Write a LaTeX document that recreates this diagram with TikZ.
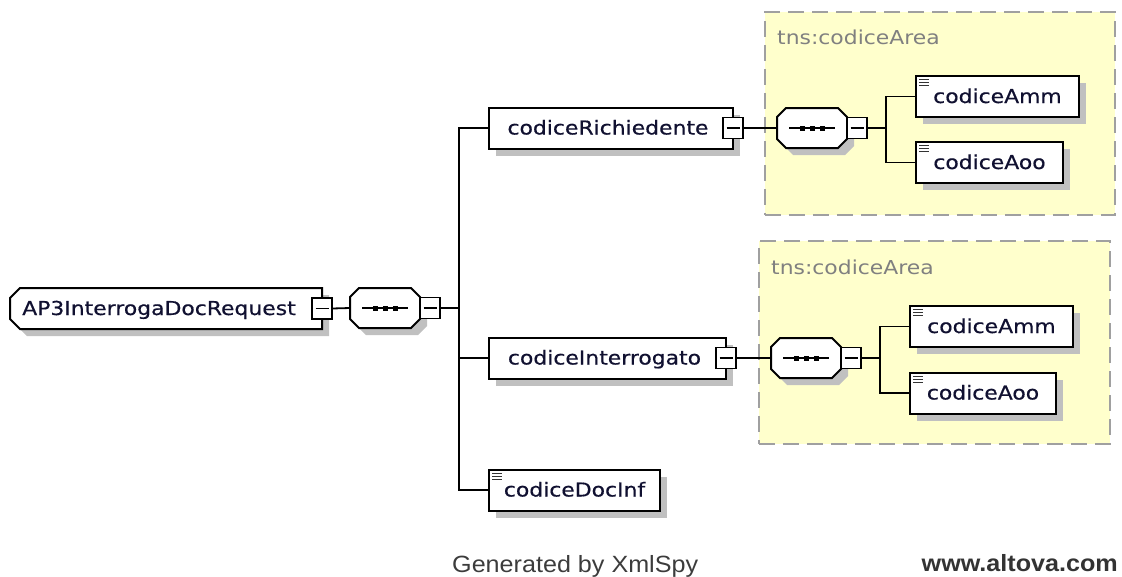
\documentclass[tikz,border=0pt]{standalone}
\usepackage{fontspec}
\usetikzlibrary{shadows}
\newfontfamily\elemfont[FakeStretch=1.14,FakeBold=0.5]{DejaVu Sans}
\newfontfamily\labelfont[FakeStretch=1.14]{DejaVu Sans}
\newfontfamily\footfont[FakeStretch=1.07]{Liberation Sans}
\definecolor{groupfill}{RGB}{255,255,204}
\definecolor{groupline}{RGB}{160,160,160}
\definecolor{shadowgray}{RGB}{192,192,192}
\definecolor{labelgray}{RGB}{128,128,128}
\definecolor{footgray}{RGB}{60,60,60}
\definecolor{inkblue}{RGB}{16,16,48}
\tikzset{
  lw/.style={line width=2pt},
  conn/.style={line width=1.8pt, draw=black},
  hole/.style={inner sep=0pt, outer sep=0pt},
  nametext/.style={font=\elemfont\fontsize{19.2}{22}\selectfont, text=inkblue,
    text height=13pt, text depth=0pt},
  elem/.style={draw, lw, fill=white, anchor=west, minimum height=41pt,
    inner sep=0pt, outer sep=0pt, nametext,
    general shadow={fill=shadowgray, shadow xshift=7pt, shadow yshift=-7pt}},
  simple/.style={elem, path picture={
      \foreach \d in {3.5,6.5,9.5}
        \draw[line width=0.9pt, black!80] ([shift={(3pt,-\d pt)}]path picture bounding box.north west) -- ++(10pt,0pt);}},
  minusbox/.style={draw, line width=1.6pt, fill=white, minimum width=20pt,
    minimum height=21pt, inner sep=0pt, outer sep=0pt,
    path picture={\draw[line width=1.4pt] ([xshift=3.5pt]path picture bounding box.west) -- ([xshift=-3.5pt]path picture bounding box.east);}},
  group/.style={draw=groupline, fill=groupfill, line width=1.8pt,
    dash pattern=on 16pt off 8pt, anchor=north west, inner sep=0pt},
  grouplabel/.style={anchor=base west, inner sep=0pt, text=labelgray,
    font=\labelfont\fontsize{19.2}{22}\selectfont},
  % sequence compositor: octagon with its shadow, dot symbol and collapse box
  seqcomp/.pic={
    \fill[shadowgray] (16,-13) -- (68,-13) -- (77,-4) -- (77,18) -- (68,27) -- (16,27) -- (7,18) -- (7,-4) -- cycle;
    \draw[lw, fill=white] (9,-20) -- (61,-20) -- (70,-11) -- (70,11) -- (61,20) -- (9,20) -- (0,11) -- (0,-11) -- cycle;
    \node[hole, minimum width=70pt, minimum height=40pt, anchor=west] (-c) at (0,0) {};
    \draw[line width=1.8pt] (12,0) -- (58,0);
    \foreach \q in {25,35,45} \fill (\q-2.5,-2.5) rectangle (\q+2.5,2.5);
    \node[minusbox, anchor=west] (-m) at (70,0) {};
  }
}
\begin{document}
\begin{tikzpicture}[x=1pt, y=-1pt]
\useasboundingbox (0,0) rectangle (1122,576);

% attribute-group frames
\node[group, minimum width=350pt, minimum height=203pt] (grpT) at (764,11) {};
\node[group, minimum width=351pt, minimum height=203pt] (grpB) at (758,240) {};
\node[grouplabel] (lblT) at (777,44) {tns:codiceArea};
\node[grouplabel] (lblB) at (771,274) {tns:codiceArea};

% root element
\fill[shadowgray] (27,295) -- (329,295) -- (329,336) -- (27,336) -- (17,326) -- (17,305) -- cycle;
\draw[lw, fill=white] (20,288) -- (322,288) -- (322,329) -- (20,329) -- (10,319) -- (10,298) -- cycle;
\node[hole, nametext, anchor=west, minimum width=312pt, minimum height=41pt] (root) at (10,308.5) {AP3InterrogaDocRequest\kern14pt};
\node[minusbox] (rootM) at (root.east) {};

% main sequence
\pic (main) at (350,308) {seqcomp};
\coordinate (bus) at (459,308);

% children of the root
\node[elem, minimum width=244pt] (cRich) at (489,128) {codiceRichiedente\kern6pt};
\node[minusbox] (richM) at (cRich.east) {};
\node[elem, minimum width=237pt] (cInt) at (489,358) {codiceInterrogato\kern6pt};
\node[minusbox] (intM) at (cInt.east) {};
\node[simple, minimum width=171pt] (cDoc) at (489,490) {codiceDocInf};

% upper codiceArea content
\pic (top) at (777,128) {seqcomp};
\coordinate (busT) at (886,128);
\node[simple, minimum width=163pt] (ammT) at (916,96.5) {codiceAmm};
\node[simple, minimum width=147pt] (aooT) at (916,162.5) {codiceAoo};

% lower codiceArea content
\pic (bot) at (771,358) {seqcomp};
\coordinate (busB) at (880,358);
\node[simple, minimum width=163pt] (ammB) at (910,326.5) {codiceAmm};
\node[simple, minimum width=146pt] (aooB) at (910,393) {codiceAoo};

% connectors
\draw[conn] (rootM.east) -- (main-c.west);
\draw[conn] (main-m.east) -- (bus);
\draw[conn] (cRich.west) -| (bus);
\draw[conn] (cInt.west) -| (bus);
\draw[conn] (cDoc.west) -| (bus);
\draw[conn] (richM.east) -- (top-c.west);
\draw[conn] (top-m.east) -- (busT);
\draw[conn] (ammT.west) -| (busT);
\draw[conn] (aooT.west) -| (busT);
\draw[conn] (intM.east) -- (bot-c.west);
\draw[conn] (bot-m.east) -- (busB);
\draw[conn] (ammB.west) -| (busB);
\draw[conn] (aooB.west) -| (busB);

% footer
\node[anchor=base west, inner sep=0pt, text=footgray, font=\footfont\fontsize{23.5}{26}\selectfont] (gen) at (452,572) {Generated by XmlSpy};
\node[anchor=base east, inner sep=0pt, text=footgray!85!black, font=\footfont\bfseries\fontsize{23.5}{26}\selectfont] (web) at (1118,571) {www.altova.com};
\end{tikzpicture}
\end{document}
